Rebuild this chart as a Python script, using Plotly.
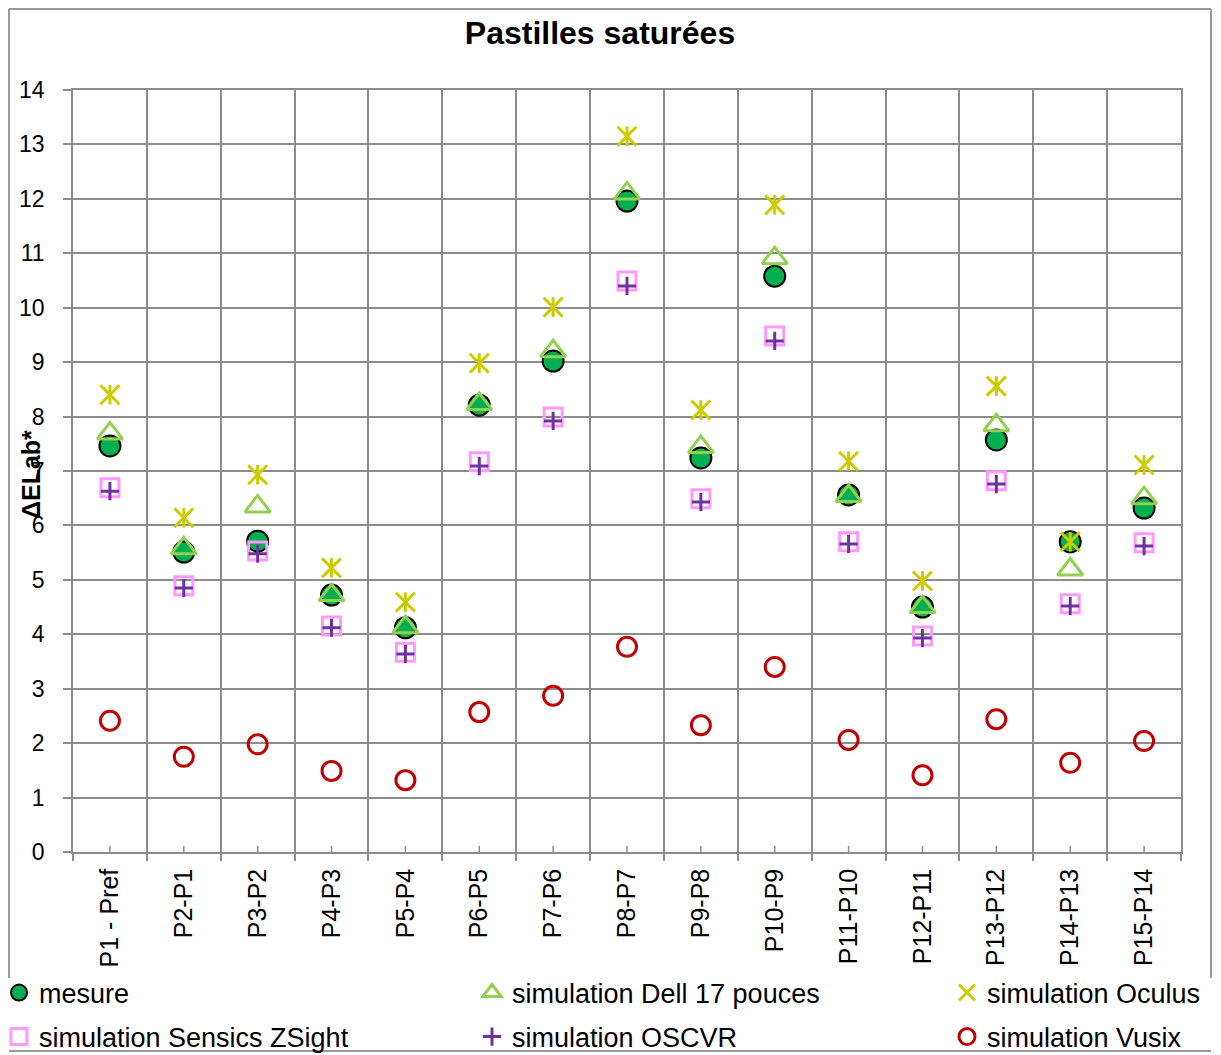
import plotly.graph_objects as go

categories = ["P1 - Pref", "P2-P1", "P3-P2", "P4-P3", "P5-P4", "P6-P5", "P7-P6", "P8-P7",
              "P9-P8", "P10-P9", "P11-P10", "P12-P11", "P13-P12", "P14-P13", "P15-P14"]

mesure = [7.46, 5.51, 5.71, 4.72, 4.12, 8.21, 9.02, 11.96, 7.24, 10.58, 6.56, 4.50, 7.57, 5.70, 6.32]
dell = [7.69, 5.58, 6.35, 4.72, 4.13, 8.23, 9.20, 12.10, 7.44, 10.91, 6.54, 4.50, 7.84, 5.19, 6.50]
oculus = [8.40, 6.14, 6.93, 5.22, 4.59, 8.98, 10.01, 13.15, 8.12, 11.89, 7.18, 4.98, 8.56, 5.70, 7.11]
sensics = [6.69, 4.89, 5.53, 4.15, 3.67, 7.17, 7.99, 10.49, 6.49, 9.48, 5.70, 3.97, 6.82, 4.56, 5.68]
oscvr = [6.63, 4.85, 5.48, 4.12, 3.64, 7.09, 7.92, 10.40, 6.43, 9.39, 5.66, 3.93, 6.76, 4.52, 5.62]
vusix = [2.41, 1.75, 1.98, 1.49, 1.32, 2.57, 2.87, 3.77, 2.33, 3.40, 2.06, 1.41, 2.44, 1.64, 2.04]

names = ["mesure", "simulation Dell 17 pouces", "simulation Oculus",
         "simulation Sensics ZSight", "simulation OSCVR", "simulation Vusix"]

y_ticks = list(range(0, 15))

FONT = "Liberation Sans, Arial, sans-serif"
GRID = "#8c8c8c"

# the page body has an 8px default margin; the figure is laid out in page pixels
OFF = 8
PAGE_W, PAGE_H = 1221, 1055
W, H = PAGE_W - 2 * OFF, PAGE_H - OFF
PLOT_X0, PLOT_X1, PLOT_Y0, PLOT_Y1 = 73, 1181, 90, 852   # page pixels of the plot area
L, R = PLOT_X0 - OFF, W - (PLOT_X1 - OFF)
T, B = PLOT_Y0 - OFF, H - (PLOT_Y1 - OFF)
PW, PH = W - L - R, H - T - B


def px_x(px):
    return (px - OFF - L) / PW


def px_y(py):
    return (H - B - (py - OFF)) / PH


fig = go.Figure()

fig.add_trace(go.Scatter(x=categories, y=mesure, mode="markers", name=names[0], legend="legend",
                         marker=dict(symbol="circle", size=21, color="#00B050",
                                     line=dict(color="#000000", width=2))))
fig.add_trace(go.Scatter(x=categories, y=dell, mode="markers", name=names[1], legend="legend2",
                         marker=dict(symbol="triangle-up-open", size=22, color="#92D050",
                                     line=dict(color="#92D050", width=3))))
fig.add_trace(go.Scatter(x=categories, y=oculus, mode="markers", name=names[2], legend="legend3",
                         marker=dict(symbol="x-thin-open", size=19, color="#CCCC00",
                                     line=dict(color="#CCCC00", width=3))))
fig.add_trace(go.Scatter(x=categories, y=oculus, mode="markers", name=names[2], showlegend=False,
                         hoverinfo="skip",
                         marker=dict(symbol="line-ns-open", size=14, color="#CCCC00",
                                     line=dict(color="#CCCC00", width=3))))
fig.add_trace(go.Scatter(x=categories, y=sensics, mode="markers", name=names[3], legend="legend4",
                         marker=dict(symbol="square-open", size=18, color="#FF99FF",
                                     line=dict(color="#FF99FF", width=3))))
fig.add_trace(go.Scatter(x=categories, y=oscvr, mode="markers", name=names[4], legend="legend5",
                         marker=dict(symbol="cross-thin-open", size=13, color="#7030A0",
                                     line=dict(color="#7030A0", width=3))))
fig.add_trace(go.Scatter(x=categories, y=vusix, mode="markers", name=names[5], legend="legend6",
                         marker=dict(symbol="circle-open", size=19, color="#C00000",
                                     line=dict(color="#C00000", width=3))))

# legend placement (one legend per entry, 3 columns x 2 rows), page pixels
col_px = [-1, 472, 947]
row_px = [993, 1037]
legend_font = dict(family=FONT, size=27, color="#000000")
legend_keys = ["legend", "legend2", "legend3", "legend4", "legend5", "legend6"]
legend_layout = {}
for i, key in enumerate(legend_keys):
    legend_layout[key] = dict(
        x=px_x(col_px[i % 3]), y=px_y(row_px[i // 3]), xanchor="left", yanchor="middle",
        xref="paper", yref="paper", bgcolor="rgba(0,0,0,0)", borderwidth=0,
        font=legend_font, itemwidth=30, orientation="v")

shapes = []
# small center ticks on the x axis
for c in categories:
    shapes.append(dict(type="line", xref="x", yref="y", x0=c, x1=c,
                       ysizemode="pixel", yanchor=0, y0=0, y1=6,
                       line=dict(color=GRID, width=1.5)))
# chart border (page pixels)
BORDER = "#9a9a9a"
bx0, bx1, by0, by_side, by_bot = 9, 1211, 9, 978, 1051
shapes.append(dict(type="line", xref="paper", yref="paper", x0=px_x(bx0), x1=px_x(bx1),
                   y0=px_y(by0), y1=px_y(by0), line=dict(color=BORDER, width=2)))
shapes.append(dict(type="line", xref="paper", yref="paper", x0=px_x(bx0), x1=px_x(bx0),
                   y0=px_y(by0), y1=px_y(by_side), line=dict(color=BORDER, width=2)))
shapes.append(dict(type="line", xref="paper", yref="paper", x0=px_x(bx1), x1=px_x(bx1),
                   y0=px_y(by0), y1=px_y(by_side), line=dict(color=BORDER, width=2)))
shapes.append(dict(type="line", xref="paper", yref="paper", x0=px_x(bx0), x1=px_x(bx1),
                   y0=px_y(by_bot), y1=px_y(by_bot), line=dict(color=BORDER, width=2)))

fig.update_layout(
    width=W, height=H,
    margin=dict(l=L, r=R, t=T, b=B, autoexpand=False),
    paper_bgcolor="white", plot_bgcolor="white",
    font=dict(family=FONT, color="#000000"),
    title=dict(text="<b>Pastilles saturées</b>", x=(600 - OFF) / W, xref="container",
               xanchor="center", y=1 - (33 - OFF) / H, yref="container", yanchor="middle",
               font=dict(family=FONT, size=32, color="#000000")),
    xaxis=dict(type="category", categoryorder="array", categoryarray=categories,
               range=[-0.5, len(categories) - 0.5],
               tickson="boundaries", ticks="outside", ticklen=7, tickwidth=1.5, tickcolor=GRID,
               showgrid=True, gridcolor=GRID, gridwidth=1.5,
               showline=True, linecolor=GRID, linewidth=1.5, mirror=True,
               tickangle=-90, tickfont=dict(family=FONT, size=25, color="#000000"),
               ticklabelstandoff=5, zeroline=False),
    yaxis=dict(range=[0, 14], tickvals=y_ticks, ticktext=[str(v) for v in y_ticks],
               ticks="outside", ticklen=8, tickwidth=1.5, tickcolor=GRID,
               showgrid=True, gridcolor=GRID, gridwidth=1.5,
               showline=True, linecolor=GRID, linewidth=1.5, mirror=True,
               tickfont=dict(family=FONT, size=23, color="#000000"),
               ticklabelstandoff=14, zeroline=False),
    shapes=shapes,
    annotations=[dict(text="<b>ΔELab*</b>", xref="paper", yref="paper",
                      x=px_x(31), y=px_y(475), xanchor="center", yanchor="middle",
                      textangle=-90, showarrow=False,
                      font=dict(family=FONT, size=25, color="#000000"))],
    **legend_layout,
)

fig.write_html("out.html")
